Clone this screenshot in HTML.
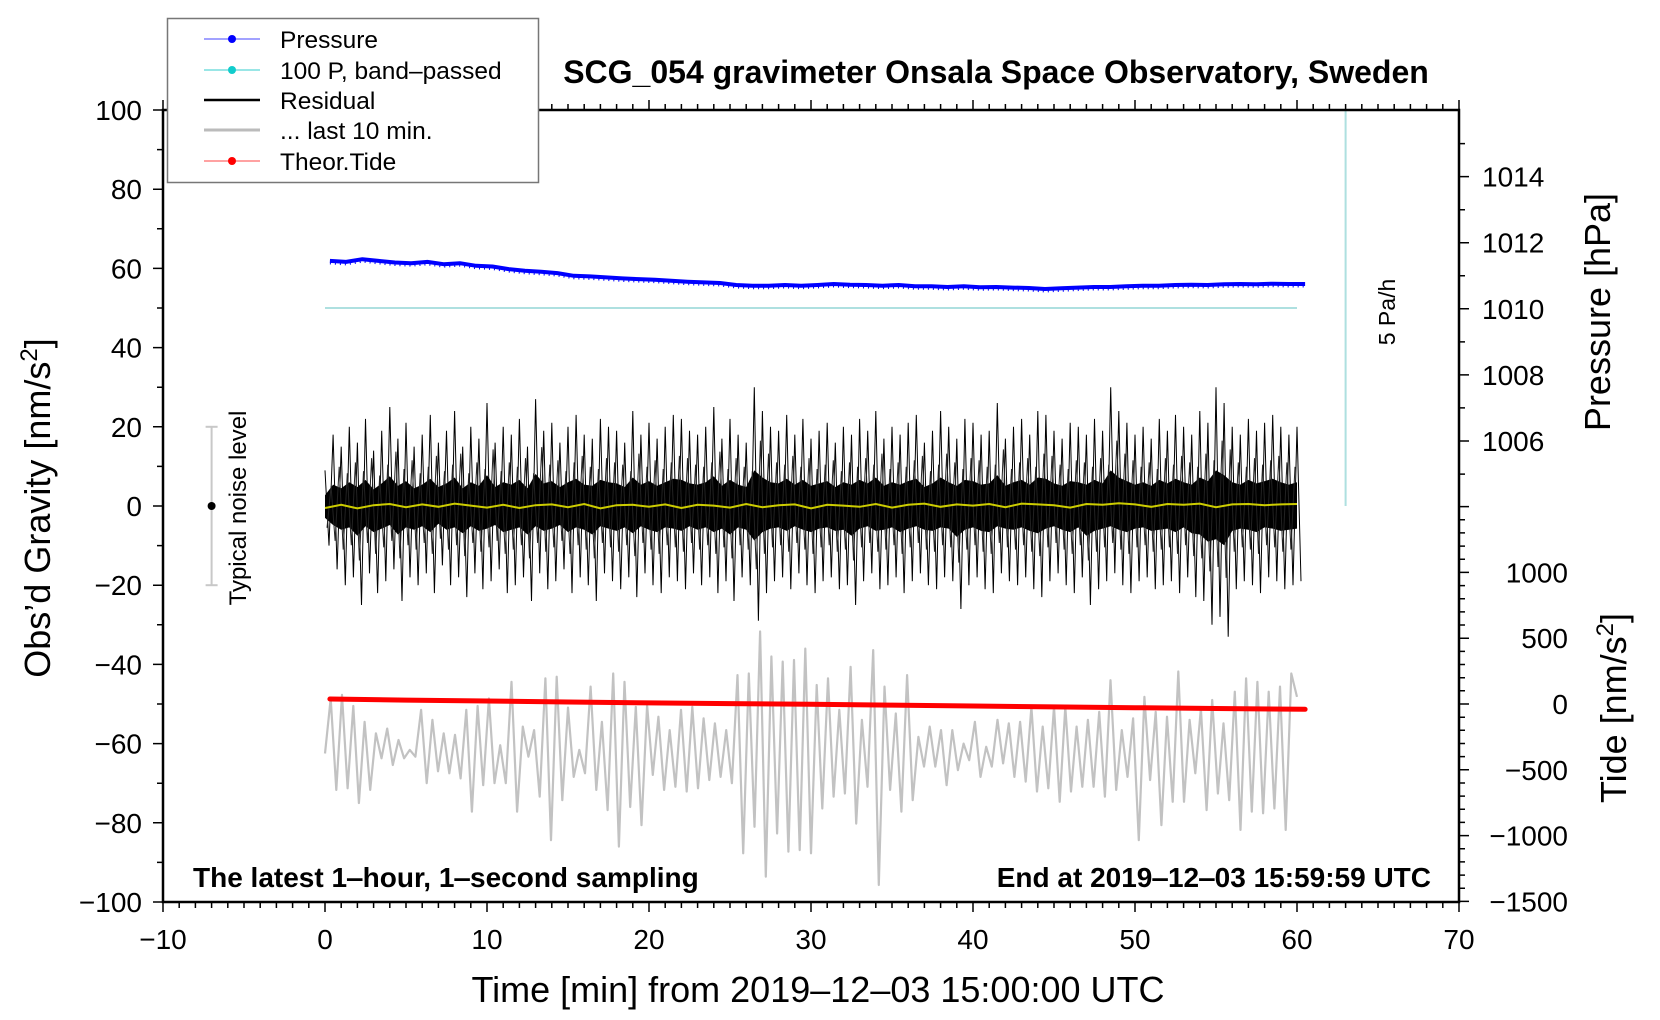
<!DOCTYPE html>
<html><head><meta charset="utf-8">
<style>
html,body{margin:0;padding:0;background:#fff;}
svg{display:block;font-family:"Liberation Sans",sans-serif;}
</style></head>
<body>
<svg id="chart" width="1660" height="1020" viewBox="0 0 1660 1020" xmlns="http://www.w3.org/2000/svg">
<rect width="1660" height="1020" fill="#fff"/>
<g id="marks"></g>
<g id="axes"></g>
<text x="996" y="83" text-anchor="middle" font-size="32" font-weight="bold">SCG_054 gravimeter Onsala Space Observatory, Sweden</text>
<text x="193" y="887" font-size="28" font-weight="bold">The latest 1‒hour, 1‒second sampling</text>
<text x="1431" y="887" text-anchor="end" font-size="28" font-weight="bold">End at 2019‒12‒03 15:59:59 UTC</text>
<text x="818" y="1002" text-anchor="middle" font-size="36">Time [min] from 2019‒12‒03 15:00:00 UTC</text>
<text transform="translate(50,508) rotate(-90)" text-anchor="middle" font-size="36">Obs’d Gravity [nm/s<tspan font-size="24" dy="-13">2</tspan><tspan dy="13">]</tspan></text>
<text transform="translate(1610,312) rotate(-90)" text-anchor="middle" font-size="36">Pressure [hPa]</text>
<text transform="translate(1626,708) rotate(-90)" text-anchor="middle" font-size="36">Tide [nm/s<tspan font-size="24" dy="-13">2</tspan><tspan dy="13">]</tspan></text>
<text transform="translate(246,508) rotate(-90)" text-anchor="middle" font-size="24">Typical noise level</text>
<text transform="translate(1395,312) rotate(-90)" text-anchor="middle" font-size="23">5 Pa/h</text>
<g>
<rect x="167.5" y="18.5" width="371" height="164" fill="#fff" stroke="#777" stroke-width="1.5"/>
<g><line x1="204" y1="39" x2="260" y2="39" stroke="#44f" stroke-width="1"/><circle cx="232" cy="39" r="4" fill="#00f"/><text x="280" y="48" font-size="24.5">Pressure</text></g>
<g><line x1="204" y1="70" x2="260" y2="70" stroke="#3cc" stroke-width="1"/><circle cx="232" cy="70" r="4" fill="#1cc"/><text x="280" y="79" font-size="24.5">100 P, band‒passed</text></g>
<g><line x1="204" y1="100" x2="260" y2="100" stroke="#000" stroke-width="2.5"/><text x="280" y="109" font-size="24.5">Residual</text></g>
<g><line x1="204" y1="130" x2="260" y2="130" stroke="#bbb" stroke-width="3"/><text x="280" y="139" font-size="24.5">... last 10 min.</text></g>
<g><line x1="204" y1="161" x2="260" y2="161" stroke="#f44" stroke-width="1"/><circle cx="232" cy="161" r="4" fill="#f00"/><text x="280" y="170" font-size="24.5">Theor.Tide</text></g>
</g>
</svg>
<script>
// ---- data ----
const pressureHpa = [1011.45,1011.42,1011.5,1011.45,1011.4,1011.38,1011.42,1011.35,1011.38,1011.3,1011.28,1011.2,1011.15,1011.12,1011.08,1011.0,1010.98,1010.95,1010.92,1010.9,1010.88,1010.85,1010.82,1010.8,1010.78,1010.72,1010.7,1010.7,1010.72,1010.7,1010.72,1010.75,1010.73,1010.72,1010.7,1010.72,1010.68,1010.68,1010.66,1010.68,1010.65,1010.66,1010.64,1010.63,1010.6,1010.62,1010.64,1010.66,1010.66,1010.68,1010.7,1010.7,1010.72,1010.73,1010.72,1010.74,1010.75,1010.74,1010.76,1010.75,1010.75];
const bandPassed = [50,50];
const resHi = [9,18,15,20,16,22,14,19,25,17,21,15,18,23,16,19,24,15,20,17,26,16,20,18,22,15,27,19,21,16,20,23,18,17,22,20,19,16,24,18,21,17,20,23,22,19,18,20,25,17,22,18,16,30,24,20,19,23,18,22,17,19,21,16,20,18,22,19,24,17,20,18,21,23,16,19,24,20,17,22,21,18,19,26,17,20,22,18,24,23,19,17,21,20,18,22,19,30,24,21,18,20,17,22,19,23,20,18,24,21,30,26,20,18,22,19,21,23,20,18,20];
const resLo = [-10,-16,-20,-18,-25,-17,-22,-19,-16,-24,-18,-20,-17,-22,-15,-20,-18,-23,-17,-21,-19,-16,-22,-20,-18,-24,-17,-21,-19,-16,-22,-18,-20,-24,-17,-19,-21,-18,-23,-17,-20,-22,-18,-19,-21,-17,-20,-18,-22,-19,-24,-18,-20,-29,-22,-19,-18,-21,-17,-20,-22,-19,-18,-21,-20,-25,-19,-17,-21,-20,-18,-22,-19,-17,-20,-21,-18,-19,-26,-20,-18,-21,-22,-17,-19,-20,-18,-21,-23,-19,-17,-20,-22,-18,-25,-21,-19,-17,-20,-22,-19,-18,-21,-20,-19,-22,-18,-23,-24,-30,-28,-33,-21,-19,-20,-22,-18,-19,-21,-20,-19];
const yellow = [-0.5,0.3,-0.6,0.2,0.5,-0.3,0.4,-0.2,0.6,0.1,-0.4,0.3,-0.5,0.2,0.4,-0.3,0.5,-0.6,0.2,0.3,-0.2,0.4,-0.5,0.3,0.1,-0.4,0.5,-0.3,0.2,0.4,-0.6,0.3,0.1,-0.2,0.5,-0.4,0.3,0.6,-0.2,0.4,0.1,0.5,-0.3,0.6,0.4,0.2,-0.4,0.5,0.3,0.7,0.4,-0.2,0.5,0.3,0.6,-0.3,0.4,0.5,0.2,0.4,0.5];
const tideTimes = [0.3,5,10,15,20,25,30,35,40,45,50,55,60.5];
const tideVals = [38,30,23,15,8,3,-2,-8,-15,-22,-28,-34,-40];
const grey = [-62.5,-48.6,-71.7,-47.7,-71.3,-50.5,-75,-54.5,-71.7,-57.4,-63.7,-56.2,-65.4,-59.1,-63.7,-61.6,-63.3,-51.5,-70,-54,-67,-57.4,-67.5,-57.8,-68.8,-51.5,-77.2,-50.5,-70.5,-48.6,-70,-60.4,-70,-44.4,-77.2,-55.7,-63.3,-56.6,-73.4,-43.5,-84.4,-43.1,-74.3,-50.9,-68.4,-61.6,-67.5,-45.6,-71.7,-54.5,-76.8,-42.3,-86,-44.4,-76,-50.7,-80.6,-50.3,-67.9,-53.2,-71.7,-56.6,-70.9,-51.5,-72.1,-50.7,-71.3,-53.6,-69.2,-54.9,-68.4,-56.6,-70,-42.7,-87.7,-42.3,-81,-31.7,-93.6,-38,-82.7,-39.3,-87.3,
-38.9,-86.9,-36,-87.7,-45.2,-76.4,-43.5,-73.4,-51.5,-72.6,-40.6,-80.2,-54,-70.9,-36.4,-95.7,-45.6,-71.7,-52.4,-77.2,-42.7,-74.3,-58.3,-65.8,-55.7,-65.8,-56.6,-70.5,-56.6,-66.7,-60,-64.2,-54.5,-68.4,-60.8,-65.8,-54,-65,-54.9,-68.4,-54.5,-69.6,-50.7,-72.1,-55.7,-71.3,-50.7,-74.7,-50.7,-72.1,-55.7,-70.9,-54,-70.9,-52,-73.4,-44,-71.7,-56.6,-68.4,-53.6,-84.4,-48.2,-69.2,-52,-80.6,-53.2,-74.7,-41.8,-74.7,-54,-67.5,-51.1,-76.8,-49,-72.6,-54.9,-74.3,-46.9,-81.8,-43.5,-77.2,-44.4,-77.6,-46.9,-76.4,-45.6,-81.8,-42.3,-48.2];
const xTicks = [-10,0,10,20,30,40,50,60,70];
const yTicks = [100,80,60,40,20,0,-20,-40,-60,-80,-100];
const pTicks = [1014,1012,1010,1008,1006];
const tTicks = [1000,500,0,-500,-1000,-1500];

// ---- scales ----
const X0=163, X1=1459, Y0=110, Y1=902;
const xs = t => X0 + (t+10)/80*(X1-X0);
const ys = g => Y0 + (100-g)/200*(Y1-Y0);
const ps = p => 308.8 - (p-1010)*33.05;
const ts = v => 704 - v/500*65.8;
const NS='http://www.w3.org/2000/svg';
const marks=document.getElementById('marks'), axes=document.getElementById('axes');
function mk(tag, parent, attrs){const e=document.createElementNS(NS,tag);for(const k in attrs)e.setAttribute(k,attrs[k]);parent.appendChild(e);return e;}
const f=v=>v.toFixed(1);

// band-passed
let e = mk('line', marks, {x1:xs(0),x2:xs(60),y1:ys(bandPassed[0]),y2:ys(bandPassed[1]),stroke:'#aee0e0','stroke-width':2});


// rate bar
e = mk('line', marks, {x1:xs(63),x2:xs(63),y1:ys(100),y2:ys(0),stroke:'#aee0e0','stroke-width':2});



// pressure
let d='';
pressureHpa.forEach((p,i)=>{const t=0.3+i*(60.5-0.3)/(pressureHpa.length-1);d+=(i?'L':'M')+f(xs(t))+' '+f(ps(p));});
e = mk('path', marks, {d:d,fill:'none',stroke:'#00f','stroke-width':4,'stroke-linejoin':'round'});


e = mk('path', marks, {d:d,fill:'none',stroke:'#00f','stroke-width':2,'stroke-dasharray':'1 4',transform:'translate(0,2.5)'});



// residual
const nR = resHi.length;
const step = 60/(nR-1);
let core='M', coreLow=[];
resHi.forEach((h,i)=>{const t=i*step;core+=(i?'L':'')+f(xs(t))+' '+f(ys(h*0.3));coreLow.push(f(xs(t))+' '+f(ys((resLo[i]||-15)*0.3)));});
core+='L'+coreLow.reverse().join('L')+'Z';
e = mk('path', marks, {d:core,fill:'#000'});


let z='';
resHi.forEach((h,i)=>{const t=i*step;const l=resLo[i]!==undefined?resLo[i]:-15;
  z+=(i?'L':'M')+f(xs(t))+' '+f(ys(h))+'L'+f(xs(t+step/2))+' '+f(ys(l));});
let z2='';
resHi.forEach((h,i)=>{const t=i*step+step/4;const l=resLo[i]!==undefined?resLo[i]:-15;
  if(t>60)return; z2+=(i?'L':'M')+f(xs(t))+' '+f(ys(l*0.55))+'L'+f(xs(Math.min(60,t+step/2)))+' '+f(ys(h*0.55));});
e = mk('path', marks, {d:z,fill:'none',stroke:'#000','stroke-width':1});


e = mk('path', marks, {d:z2,fill:'none',stroke:'#222','stroke-width':1});


// yellow
d='';
yellow.forEach((v,i)=>{const t=i*60/(yellow.length-1);d+=(i?'L':'M')+f(xs(t))+' '+f(ys(v));});
e = mk('path', marks, {d:d,fill:'none',stroke:'#cc0','stroke-width':2});



// grey last 10 min
d='';
grey.forEach((v,i)=>{const t=i*60/(grey.length-1);d+=(i?'L':'M')+f(xs(t))+' '+f(ys(v));});
e = mk('path', marks, {d:d,fill:'none',stroke:'#c2c2c2','stroke-width':2.2,'stroke-linejoin':'round'});



// tide
d='';
tideVals.forEach((v,i)=>{d+=(i?'L':'M')+f(xs(tideTimes[i]))+' '+f(ts(v));});
e = mk('path', marks, {d:d,fill:'none',stroke:'#f00','stroke-width':5,'stroke-linecap':'round'});



// noise bar
e = mk('g', marks, {});


mk('line', e, {x1:xs(-7),x2:xs(-7),y1:ys(20),y2:ys(-20),stroke:'#c8c8c8','stroke-width':2});
mk('line', e, {x1:xs(-7)-6,x2:xs(-7)+6,y1:ys(20),y2:ys(20),stroke:'#c8c8c8','stroke-width':2});
mk('line', e, {x1:xs(-7)-6,x2:xs(-7)+6,y1:ys(-20),y2:ys(-20),stroke:'#c8c8c8','stroke-width':2});
mk('circle', e, {cx:xs(-7),cy:ys(0),r:4,fill:'#000'});

// ---- axes ----
e = mk('rect', axes, {x:X0,y:Y0,width:X1-X0,height:Y1-Y0,fill:'none',stroke:'#000','stroke-width':2.5});


let tk='';
for(let t=-10;t<=70;t++){const L=(t%10===0)?10:6;const x=xs(t);tk+=`M${f(x)} ${Y1}v${L}M${f(x)} ${Y0}v${-L}`;}
for(let g=-100;g<=100;g+=10){const L=(g%20===0)?10:6;tk+=`M${X0} ${f(ys(g))}h${-L}`;}
for(let p=1005;p<=1015;p++){const L=(p%2===0)?10:6;tk+=`M${X1} ${f(ps(p))}h${L}`;}
for(let v=-1500;v<=1500;v+=100){const L=(v%500===0)?10:6;tk+=`M${X1} ${f(ts(v))}h${L}`;}
e = mk('path', axes, {d:tk,stroke:'#000','stroke-width':1.5,fill:'none'});


const minus=s=>String(s).replace('-','−');
xTicks.forEach(t=>{const el=mk('text',axes,{x:xs(t),y:949,'text-anchor':'middle','font-size':28});el.textContent=minus(t);

});
yTicks.forEach(g=>{const el=mk('text',axes,{x:142,y:ys(g)+10,'text-anchor':'end','font-size':28});el.textContent=minus(g);

});
pTicks.forEach(p=>{const el=mk('text',axes,{x:1482,y:ps(p)+10,'font-size':28});el.textContent=p;

});
tTicks.forEach(v=>{const el=mk('text',axes,{x:1568,y:ts(v)+10,'text-anchor':'end','font-size':28});el.textContent=minus(v);

});
</script>
</body></html>
